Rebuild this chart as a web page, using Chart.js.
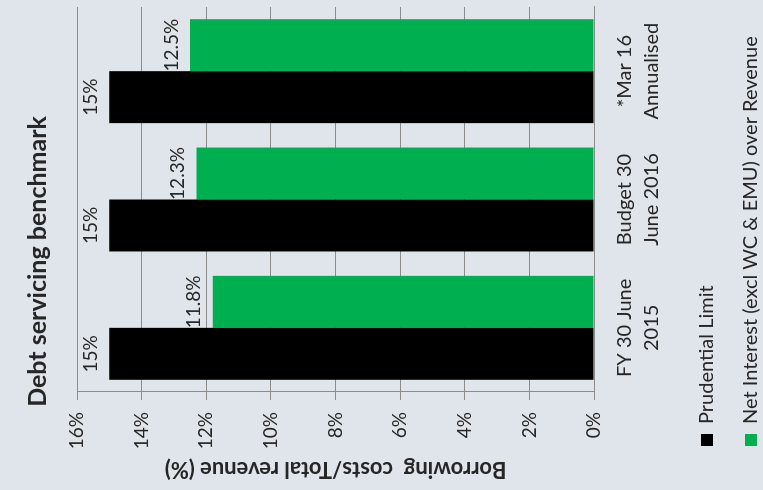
<!DOCTYPE html>
<html>
<head>
<meta charset="utf-8">
<script src="https://cdn.jsdelivr.net/npm/chart.js@4.4.1/dist/chart.umd.min.js"></script>
<style>
  html, body { margin: 0; padding: 0; background: #dfe5eb; overflow: hidden; }
  /* the slide is photographed turned a quarter to the left */
  #giro {
    position: absolute; left: 0; top: 0;
    width: 490px; height: 763px;
    transform-origin: 0 0;
    transform: translateY(490px) rotate(-90deg);
  }
</style>
</head>
<body>
<div id="giro"><canvas id="grafico" width="490" height="763"></canvas></div>
<script>
// Debt servicing benchmark
const categorias = [['FY 30 June', '2015'], ['Budget 30', 'June 2016'], ['*Mar 16', 'Annualised']];
const limitePrudencial = [15, 15, 15];
const interesNeto = [11.8, 12.3, 12.5];
const ticksY = [0, 2, 4, 6, 8, 10, 12, 14, 16];

const fuente = 'Lato, "Open Sans", sans-serif';
const colorTexto = '#262626';

// etiquetas de valor encima de cada barra
const etiquetasValor = {
  id: 'etiquetasValor',
  afterDatasetsDraw(chart) {
    const {ctx} = chart;
    ctx.save();
    ctx.font = '19px ' + fuente;
    ctx.fillStyle = colorTexto;
    ctx.textAlign = 'center';
    ctx.textBaseline = 'bottom';
    chart.data.datasets.forEach((ds, i) => {
      chart.getDatasetMeta(i).data.forEach((bar, j) => {
        ctx.fillText(ds.data[j] + '%', bar.x, bar.y - 9);
      });
    });
    ctx.restore();
  }
};

// el título va algo a la izquierda y la leyenda algo más abajo y a la derecha
const ajustarCajas = {
  id: 'ajustarCajas',
  afterLayout(chart) {
    const t = chart.titleBlock;
    if (t) { t.left -= 17; t.right -= 17; }
    const l = chart.legend;
    if (l) { l.left += 12; l.right += 12; l.top += 6; l.bottom += 6; }
  }
};

new Chart(document.getElementById('grafico'), {
  type: 'bar',
  data: {
    labels: categorias,
    datasets: [
      {
        label: 'Prudential Limit',
        data: limitePrudencial,
        backgroundColor: '#000000',
        barPercentage: 1,
        categoryPercentage: 0.81
      },
      {
        label: 'Net Interest (excl WC & EMU) over Revenue',
        data: interesNeto,
        backgroundColor: '#00b050',
        barPercentage: 1,
        categoryPercentage: 0.81
      }
    ]
  },
  options: {
    responsive: false,
    animation: false,
    layout: { padding: { top: 0, left: 8, right: 7, bottom: 0 } },
    plugins: {
      title: {
        display: true,
        text: 'Debt servicing benchmark',
        color: colorTexto,
        font: { family: fuente, size: 25, weight: 'bold' },
        padding: { top: 23, bottom: 24 }
      },
      legend: {
        position: 'bottom',
        align: 'start',
        maxHeight: 96,
        labels: {
          color: colorTexto,
          font: { family: fuente, size: 20 },
          boxWidth: 12,
          boxHeight: 12,
          padding: 24
        }
      },
      tooltip: { enabled: false }
    },
    scales: {
      x: {
        afterFit: (eje) => { eje.height = 73; },
        grid: { display: false },
        border: { display: true, color: '#8c8c8c' },
        ticks: {
          color: colorTexto,
          font: { family: fuente, size: 20, lineHeight: 1.35 },
          maxRotation: 0,
          padding: 9
        }
      },
      y: {
        min: 0,
        max: 16,
        afterFit: (eje) => { eje.width = 90; },
        afterBuildTicks: (eje) => { eje.ticks = ticksY.map(v => ({ value: v })); },
        grid: { color: '#8c8c8c', tickLength: 8 },
        border: { display: true, color: '#8c8c8c' },
        ticks: {
          color: colorTexto,
          font: { family: fuente, size: 19 },
          padding: 12,
          callback: (v) => v + '%'
        },
        title: {
          display: true,
          text: 'Borrowing  costs/Total revenue (%)',
          color: colorTexto,
          font: { family: fuente, size: 22, weight: 'bold' },
          padding: { top: 0, bottom: 4 }
        }
      }
    }
  },
  plugins: [etiquetasValor, ajustarCajas]
});
</script>
</body>
</html>
